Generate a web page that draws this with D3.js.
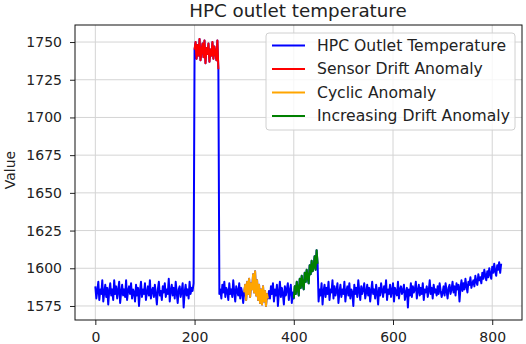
<!DOCTYPE html>
<html>
<head>
<meta charset="utf-8">
<script src="https://cdn.jsdelivr.net/npm/d3@7"></script>
<style>
  body { margin: 0; background: #fff; }
  svg { display: block; font-family: "DejaVu Sans", sans-serif; }
</style>
</head>
<body>
<div id="chart"></div>
<script>
// sampled every 2 time steps (x = index * step)
const step = 2;
const temperature = [
  1588,1580,1585,1591,1579,1586,1583,1592,1578,1584,
  1589,1581,1587,1576,1585,1590,1582,1586,1579,1592,
  1583,1588,1580,1585,1591,1577,1584,1589,1582,1586,
  1581,1592,1579,1585,1588,1583,1590,1580,1586,1584,
  1578,1589,1582,1587,1575,1585,1591,1581,1586,1583,
  1590,1579,1584,1588,1582,1592,1580,1585,1587,1581,
  1589,1583,1576,1586,1591,1582,1585,1579,1588,1584,
  1590,1581,1586,1583,1593,1578,1585,1589,1582,1587,
  1580,1591,1584,1577,1586,1588,1581,1585,1590,1574,
  1584,1589,1582,1586,1580,1591,1583,1587,1585,1590,
  // sensor drift 200-249
  1745,1750,1739,1748,1741,1752,1738,1744,1749,1740,
  1751,1736,1746,1742,1749,1737,1745,1741,1750,1739,
  1747,1743,1738,1751,1732,
  1583,1586,1580,1589,1584,1591,1581,1587,1585,1579,
  1590,1583,1586,1581,1592,1584,1578,1588,1585,1582,
  1590,1580,1587,1584,1577,
  // cyclic 300-349
  1584,1589,1579,1591,1583,1593,1581,1590,1586,1596,
  1584,1598,1582,1592,1579,1589,1577,1586,1576,1588,
  1578,1585,1575,1583,1580,
  1585,1580,1588,1583,1590,1578,1586,1582,1589,1575,
  1584,1591,1581,1587,1583,1576,1588,1582,1586,1590,
  1579,1585,1589,1577,1584,
  // increasing drift 400-449
  1580,1588,1583,1591,1586,1582,1593,1587,1595,1589,
  1586,1597,1591,1599,1594,1590,1602,1596,1605,1598,
  1601,1608,1599,1612,1603,
  1578,1586,1582,1590,1576,1585,1589,1581,1587,1583,
  1591,1579,1586,1584,1592,1580,1588,1582,1585,1590,
  1577,1584,1589,1581,1586,1583,1591,1578,1585,1588,
  1582,1590,1580,1586,1584,1575,1589,1583,1587,1581,
  1592,1585,1579,1588,1583,1586,1590,1580,1584,1589,
  1582,1587,1578,1585,1591,1583,1586,1580,1589,1584,
  1576,1587,1582,1590,1585,1581,1588,1584,1592,1579,
  1586,1583,1589,1581,1585,1590,1578,1587,1584,1582,
  1591,1580,1586,1588,1583,1585,1589,1579,1584,1587,
  1574,1586,1582,1590,1581,1588,1584,1586,1591,1580,
  1585,1589,1582,1587,1583,1590,1579,1586,1584,1588,
  1581,1585,1592,1583,1587,1580,1589,1584,1586,1582,
  1588,1583,1590,1585,1581,
  1584,1588,1582,1590,1585,1580,1587,1589,1583,1586,
  1591,1584,1588,1582,1590,1586,1589,1578,1587,1592,
  1585,1590,1586,1593,1588,1584,1591,1589,1594,1587,
  1590,1592,1588,1595,1591,1589,1596,1592,1594,1590,
  1597,1593,1599,1595,1592,1598,1594,1600,1596,1593,
  1601,1597,1603,1598,1595,1602,1599,1604,1597,1603
];

const seriesNames = ["HPC Outlet Temperature", "Sensor Drift Anomaly", "Cyclic Anomaly", "Increasing Drift Anomaly"];
const anomalyStart = [200, 300, 400];
const anomalyEnd = [249, 349, 449];
const xTicks = [0, 200, 400, 600, 800];
const yTicks = [1575, 1600, 1625, 1650, 1675, 1700, 1725, 1750];

const colors = ["#0000ff", "#ff0000", "#ffa500", "#008000"];

const width = 526, height = 344;
const margin = { top: 25, right: 4, bottom: 24, left: 75 };

const svg = d3.select("#chart").append("svg")
  .attr("width", width)
  .attr("height", height);

const x = d3.scaleLinear().domain([-41, 860]).range([margin.left, width - margin.right]);
const y = d3.scaleLinear().domain([1565.7, 1761.3]).range([height - margin.bottom, margin.top]);

const points = temperature.map((v, i) => ({ x: i * step, y: v }));

// grid
svg.append("g")
  .selectAll("line")
  .data(xTicks)
  .join("line")
  .attr("x1", d => x(d)).attr("x2", d => x(d))
  .attr("y1", margin.top).attr("y2", height - margin.bottom)
  .attr("stroke", "#d4d4d4").attr("stroke-width", 1);

svg.append("g")
  .selectAll("line")
  .data(yTicks)
  .join("line")
  .attr("x1", margin.left).attr("x2", width - margin.right)
  .attr("y1", d => y(d)).attr("y2", d => y(d))
  .attr("stroke", "#d4d4d4").attr("stroke-width", 1);

// lines
const line = d3.line().x(d => x(d.x)).y(d => y(d.y));

const plot = svg.append("g");
plot.append("path")
  .datum(points)
  .attr("d", line)
  .attr("fill", "none")
  .attr("stroke", colors[0])
  .attr("stroke-width", 2)
  .attr("stroke-linejoin", "round");

anomalyStart.forEach((s, k) => {
  const seg = points.filter(p => p.x >= s && p.x <= anomalyEnd[k]);
  plot.append("path")
    .datum(seg)
    .attr("d", line)
    .attr("fill", "none")
    .attr("stroke", colors[k + 1])
    .attr("stroke-width", 2)
    .attr("stroke-linejoin", "round");
});

// axes
const fmt = d3.format("d");
const xAxis = svg.append("g")
  .attr("transform", `translate(0,${height - margin.bottom})`)
  .call(d3.axisBottom(x).tickValues(xTicks).tickFormat(fmt).tickSize(5).tickPadding(7));
const yAxis = svg.append("g")
  .attr("transform", `translate(${margin.left},0)`)
  .call(d3.axisLeft(y).tickValues(yTicks).tickFormat(fmt).tickSize(5).tickPadding(8));

[xAxis, yAxis].forEach(a => {
  a.select(".domain").remove();
  a.selectAll("text")
    .attr("font-family", "DejaVu Sans, sans-serif")
    .attr("font-size", 14)
    .attr("fill", "#222");
  a.selectAll("line").attr("stroke", "#222");
});

// frame
svg.append("rect")
  .attr("x", margin.left).attr("y", margin.top)
  .attr("width", width - margin.left - margin.right)
  .attr("height", height - margin.top - margin.bottom)
  .attr("fill", "none").attr("stroke", "#111").attr("stroke-width", 1);

// title
svg.append("text")
  .attr("x", 298)
  .attr("y", 17)
  .attr("text-anchor", "middle")
  .attr("font-size", 18.3)
  .attr("fill", "#222")
  .text("HPC outlet temperature");

// y label
svg.append("text")
  .attr("transform", `translate(15,170) rotate(-90)`)
  .attr("text-anchor", "middle")
  .attr("font-size", 14)
  .attr("fill", "#222")
  .text("Value");

// legend
const legend = svg.append("g").attr("transform", "translate(266,33)");
legend.append("rect")
  .attr("width", 249).attr("height", 97)
  .attr("rx", 3)
  .attr("fill", "#fff").attr("fill-opacity", 0.8)
  .attr("stroke", "#d0d0d0");

const rows = legend.selectAll("g")
  .data(seriesNames)
  .join("g")
  .attr("transform", (d, i) => `translate(0,${12.5 + i * 23.5})`);

rows.append("line")
  .attr("x1", 6).attr("x2", 39)
  .attr("stroke", (d, i) => colors[i])
  .attr("stroke-width", 2);

rows.append("text")
  .attr("x", 51)
  .attr("dy", "0.35em")
  .attr("font-size", 15.6)
  .attr("fill", "#222")
  .text(d => d);
</script>
</body>
</html>
